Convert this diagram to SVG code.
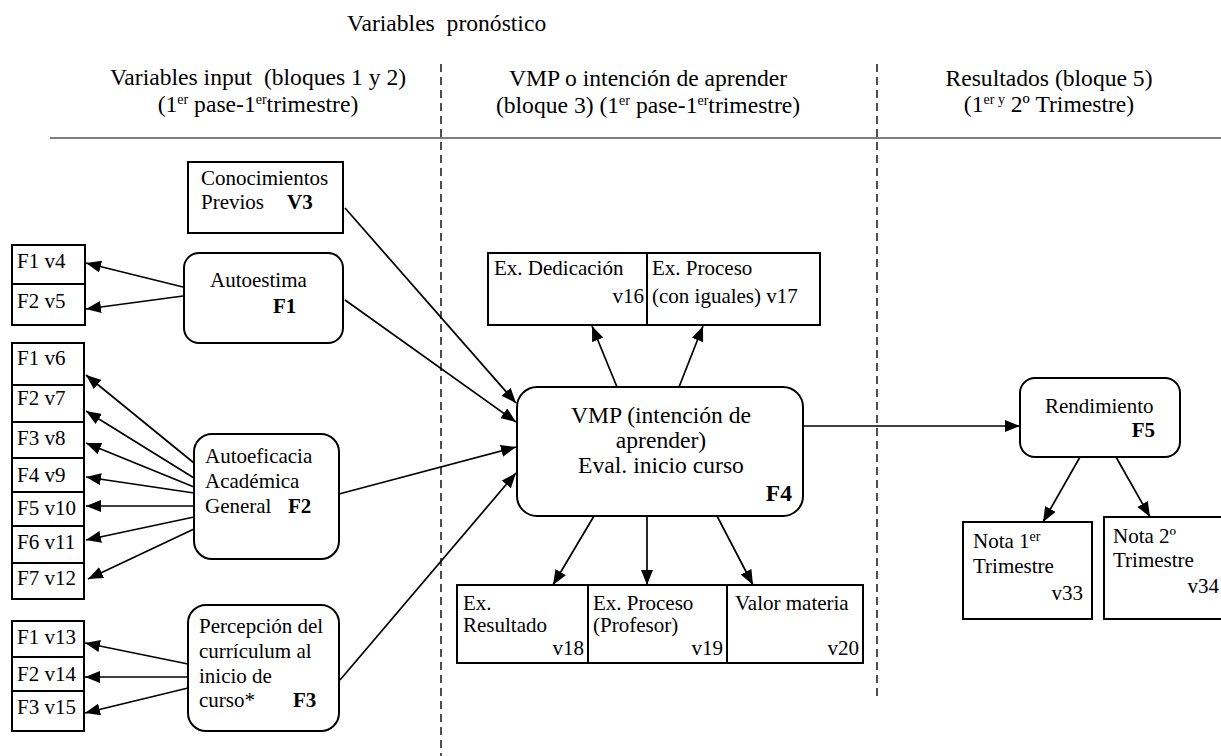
<svg xmlns="http://www.w3.org/2000/svg" width="1221" height="756" viewBox="0 0 1221 756" font-family="'Liberation Serif', 'Times New Roman', serif">
  <defs>
    <marker id="arrow" markerUnits="userSpaceOnUse" markerWidth="15" markerHeight="12" refX="15" refY="6" orient="auto">
      <path d="M0,0 L15,6 L0,12 Z" fill="#000"/>
    </marker>
    <style>
      text { font-family: "Liberation Serif", "Times New Roman", serif; fill: #000; }
      .hd { font-size: 23.6px; }
      .lb { font-size: 21px; }
      .big { font-size: 23.6px; }
      .b { font-weight: bold; }
      .sup { font-size: 14px; }
      .box { fill: #fff; stroke: #000; stroke-width: 2; }
      .conn path { fill: none; stroke: #000; stroke-width: 1.7; marker-end: url(#arrow); }
      .divider { stroke: #222; stroke-width: 1.6; stroke-dasharray: 8 5; }
    </style>
  </defs>

  <rect width="1221" height="756" fill="#fff"/>

  <!-- headings -->
  <g id="headings">
    <text class="hd" x="347" y="31" xml:space="preserve">Variables  pronóstico</text>
    <text class="hd" x="258" y="85" text-anchor="middle" xml:space="preserve">Variables input  (bloques 1 y 2)</text>
    <text class="hd" x="258" y="112" text-anchor="middle">(1<tspan class="sup" dy="-8">er</tspan><tspan dy="8"> pase-1</tspan><tspan class="sup" dy="-8">er</tspan><tspan dy="8">trimestre)</tspan></text>
    <text class="hd" x="648" y="86" text-anchor="middle">VMP o intención de aprender</text>
    <text class="hd" x="648" y="113" text-anchor="middle">(bloque 3) (1<tspan class="sup" dy="-8">er</tspan><tspan dy="8"> pase-1</tspan><tspan class="sup" dy="-8">er</tspan><tspan dy="8">trimestre)</tspan></text>
    <text class="hd" x="1049" y="86" text-anchor="middle">Resultados (bloque 5)</text>
    <text class="hd" x="1049" y="112" text-anchor="middle">(1<tspan class="sup" dy="-8">er y</tspan><tspan dy="8"> 2º Trimestre)</tspan></text>
    <line x1="50" y1="138" x2="1221" y2="138" stroke="#555" stroke-width="1.6"/>
    <line class="divider" x1="441" y1="64" x2="441" y2="756"/>
    <line class="divider" x1="877" y1="64" x2="877" y2="700"/>
  </g>

  <!-- input block -->
  <g id="conocimientos">
    <rect class="box" x="188" y="162" width="155" height="71"/>
    <text class="lb" x="201" y="185">Conocimientos</text>
    <text class="lb" x="201" y="209">Previos</text>
    <text class="lb b" x="287" y="209">V3</text>
  </g>

  <g id="autoestima">
    <rect class="box" x="184" y="253" width="159" height="90" rx="15"/>
    <text class="lb" x="210" y="287">Autoestima</text>
    <text class="lb b" x="273" y="313">F1</text>
  </g>

  <g id="autoestima-items">
    <rect class="box" x="12" y="245" width="73" height="39"/>
    <text class="lb" x="17" y="268">F1 v4</text>
    <rect class="box" x="12" y="284" width="73" height="41"/>
    <text class="lb" x="17" y="308">F2 v5</text>
  </g>

  <g id="autoeficacia">
    <rect class="box" x="194" y="434" width="145" height="125" rx="18"/>
    <text class="lb" x="205" y="463">Autoeficacia</text>
    <text class="lb" x="205" y="488">Académica</text>
    <text class="lb" x="205" y="513">General</text>
    <text class="lb b" x="288" y="513">F2</text>
  </g>

  <g id="autoeficacia-items">
    <rect class="box" x="12" y="343" width="72" height="42"/>
    <text class="lb" x="17" y="365">F1 v6</text>
    <rect class="box" x="12" y="385" width="72" height="37"/>
    <text class="lb" x="17" y="405">F2 v7</text>
    <rect class="box" x="12" y="422" width="72" height="36"/>
    <text class="lb" x="17" y="445">F3 v8</text>
    <rect class="box" x="12" y="458" width="72" height="34"/>
    <text class="lb" x="17" y="482">F4 v9</text>
    <rect class="box" x="12" y="492" width="72" height="34"/>
    <text class="lb" x="17" y="515">F5 v10</text>
    <rect class="box" x="12" y="526" width="72" height="37"/>
    <text class="lb" x="17" y="549">F6 v11</text>
    <rect class="box" x="12" y="563" width="72" height="36"/>
    <text class="lb" x="17" y="585">F7 v12</text>
  </g>

  <g id="percepcion">
    <rect class="box" x="188" y="605" width="151" height="126" rx="18"/>
    <text class="lb" x="199" y="633">Percepción del</text>
    <text class="lb" x="199" y="658">currículum al</text>
    <text class="lb" x="199" y="683">inicio de</text>
    <text class="lb" x="199" y="707">curso*</text>
    <text class="lb b" x="293" y="707">F3</text>
  </g>

  <g id="percepcion-items">
    <rect class="box" x="12" y="621" width="72" height="36"/>
    <text class="lb" x="17" y="644">F1 v13</text>
    <rect class="box" x="12" y="657" width="72" height="34"/>
    <text class="lb" x="17" y="681">F2 v14</text>
    <rect class="box" x="12" y="691" width="72" height="40"/>
    <text class="lb" x="17" y="714">F3 v15</text>
  </g>

  <!-- VMP block -->
  <g id="vmp">
    <rect class="box" x="517" y="387" width="286" height="129" rx="20"/>
    <text class="big" x="661" y="423" text-anchor="middle">VMP (intención de</text>
    <text class="big" x="661" y="448" text-anchor="middle">aprender)</text>
    <text class="big" x="661" y="473" text-anchor="middle">Eval. inicio curso</text>
    <text class="big b" x="792" y="501" text-anchor="end">F4</text>
  </g>

  <g id="ex-dedicacion">
    <rect class="box" x="488" y="253" width="159" height="72"/>
    <text class="lb" x="494" y="275">Ex. Dedicación</text>
    <text class="lb" x="644" y="303" text-anchor="end">v16</text>
  </g>

  <g id="ex-proceso-iguales">
    <rect class="box" x="647" y="253" width="173" height="72"/>
    <text class="lb" x="652" y="275">Ex. Proceso</text>
    <text class="lb" x="652" y="303">(con iguales) v17</text>
  </g>

  <g id="ex-resultado">
    <rect class="box" x="457" y="585" width="131" height="78"/>
    <text class="lb" x="463" y="610">Ex.</text>
    <text class="lb" x="463" y="632">Resultado</text>
    <text class="lb" x="584" y="655" text-anchor="end">v18</text>
  </g>

  <g id="ex-proceso-profesor">
    <rect class="box" x="588" y="585" width="139" height="78"/>
    <text class="lb" x="593" y="610">Ex. Proceso</text>
    <text class="lb" x="593" y="632">(Profesor)</text>
    <text class="lb" x="723" y="655" text-anchor="end">v19</text>
  </g>

  <g id="valor-materia">
    <rect class="box" x="727" y="585" width="136" height="78"/>
    <text class="lb" x="735" y="610">Valor materia</text>
    <text class="lb" x="859" y="655" text-anchor="end">v20</text>
  </g>

  <!-- results block -->
  <g id="rendimiento">
    <rect class="box" x="1020" y="378" width="160" height="79" rx="15"/>
    <text class="lb" x="1045" y="413">Rendimiento</text>
    <text class="lb b" x="1155" y="437" text-anchor="end">F5</text>
  </g>

  <g id="nota-1">
    <rect class="box" x="963" y="522" width="129" height="97"/>
    <text class="lb" x="973" y="548">Nota 1<tspan class="sup" dy="-7">er</tspan></text>
    <text class="lb" x="973" y="573">Trimestre</text>
    <text class="lb" x="1083" y="600" text-anchor="end">v33</text>
  </g>

  <g id="nota-2">
    <rect class="box" x="1104" y="517" width="130" height="102"/>
    <text class="lb" x="1113" y="543">Nota 2º</text>
    <text class="lb" x="1113" y="567">Trimestre</text>
    <text class="lb" x="1219" y="593" text-anchor="end">v34</text>
  </g>

  <!-- connectors -->
  <g id="connectors" class="conn">
    <path d="M183,287 L86,263"/>
    <path d="M183,296 L86,309"/>
    <path d="M194,463 L86,375"/>
    <path d="M194,478 L86,411"/>
    <path d="M194,487 L86,443"/>
    <path d="M194,493 L86,477"/>
    <path d="M194,506 L86,506"/>
    <path d="M194,517 L86,540"/>
    <path d="M194,529 L88,579"/>
    <path d="M188,664 L85,643"/>
    <path d="M188,677 L85,677"/>
    <path d="M188,688 L85,713"/>
    <path d="M345,208 L516,403"/>
    <path d="M345,300 L516,422"/>
    <path d="M339,494 L516,447"/>
    <path d="M340,680 L516,473"/>
    <path d="M617,387 L592,326"/>
    <path d="M679,387 L703,326"/>
    <path d="M594,516 L553,585"/>
    <path d="M647,516 L647,585"/>
    <path d="M717,516 L753,585"/>
    <path d="M803,426 L1020,426"/>
    <path d="M1080,457 L1043,522"/>
    <path d="M1116,457 L1150,517"/>
  </g>
</svg>
